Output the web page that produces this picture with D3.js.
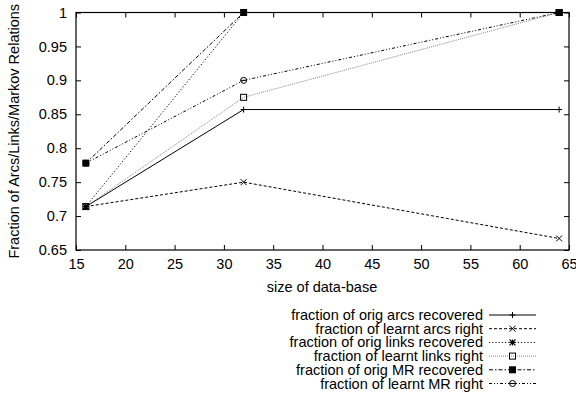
<!DOCTYPE html>
<html>
<head>
<meta charset="utf-8">
<script src="https://cdn.jsdelivr.net/npm/d3@7"></script>
<style>
    body { margin: 0; background: #fff; }
    text { font-family: "Liberation Sans", Arial, sans-serif; fill: #000; }
</style>
</head>
<body>
<div id="chart"></div>
<script>
// data-base sizes
const sizes = [16, 32, 64];

// series values
const origArcsRecovered = [0.714, 0.857, 0.857];
const learntArcsRight = [0.714, 0.75, 0.667];
const origLinksRecovered = [0.714, 1, 1];
const learntLinksRight = [0.714, 0.875, 1];
const origMRRecovered = [0.778, 1, 1];
const learntMRRight = [0.778, 0.9, 1];

const seriesNames = [
    'fraction of orig arcs recovered',
    'fraction of learnt arcs right',
    'fraction of orig links recovered',
    'fraction of learnt links right',
    'fraction of orig MR recovered',
    'fraction of learnt MR right'
];

const xTicks = [15, 20, 25, 30, 35, 40, 45, 50, 55, 60, 65];
const yTicks = [0.65, 0.7, 0.75, 0.8, 0.85, 0.9, 0.95, 1];

const width = 576, height = 397;
const margin = { top: 12.5, right: 7, bottom: 147, left: 76 };
const w = width - margin.left - margin.right;
const h = height - margin.top - margin.bottom;
const fs = 14.5;

const svg = d3.select('#chart').append('svg')
    .attr('width', width)
    .attr('height', height);

const x = d3.scaleLinear().domain([15, 65]).range([margin.left, margin.left + w]);
const y = d3.scaleLinear().domain([0.65, 1]).range([margin.top + h, margin.top]);

// styles per series: dash, colour, marker
const styles = [
    { dash: null, color: '#000', marker: 'plus' },
    { dash: '3,2', color: '#000', marker: 'cross' },
    { dash: '1.2,2', color: '#000', marker: 'star' },
    { dash: '1,1', color: '#888', marker: 'box' },
    { dash: '4,2,1.5,2', color: '#000', marker: 'fbox' },
    { dash: '3,2,1,2,1,2', color: '#000', marker: 'circle' }
];

const allSeries = [origArcsRecovered, learntArcsRight, origLinksRecovered,
    learntLinksRight, origMRRecovered, learntMRRight];

// axes with inward ticks, mirrored
const tickLen = 5;
const axisG = svg.append('g').attr('class', 'axes');

axisG.append('g')
    .attr('transform', `translate(0,${margin.top + h})`)
    .call(d3.axisBottom(x).tickValues(xTicks).tickSizeInner(-tickLen).tickSizeOuter(0).tickPadding(9).tickFormat(d3.format('d')))
    .call(g => g.select('.domain').remove())
    .call(g => g.selectAll('text').attr('font-size', fs));
axisG.append('g')
    .attr('transform', `translate(0,${margin.top})`)
    .call(d3.axisTop(x).tickValues(xTicks).tickSizeInner(-tickLen).tickSizeOuter(0).tickFormat(''))
    .call(g => g.select('.domain').remove());
axisG.append('g')
    .attr('transform', `translate(${margin.left},0)`)
    .call(d3.axisLeft(y).tickValues(yTicks).tickSizeInner(-tickLen).tickSizeOuter(0).tickPadding(9).tickFormat(d => d3.format('')(d)))
    .call(g => g.select('.domain').remove())
    .call(g => g.selectAll('text').attr('font-size', fs));
axisG.append('g')
    .attr('transform', `translate(${margin.left + w},0)`)
    .call(d3.axisRight(y).tickValues(yTicks).tickSizeInner(-tickLen).tickSizeOuter(0).tickFormat(''))
    .call(g => g.select('.domain').remove());

axisG.append('rect')
    .attr('x', margin.left).attr('y', margin.top)
    .attr('width', w).attr('height', h)
    .attr('fill', 'none').attr('stroke', '#000').attr('stroke-width', 1.2);

// axis titles
svg.append('text')
    .attr('x', 322)
    .attr('y', 292)
    .attr('text-anchor', 'middle')
    .attr('font-size', fs)
    .text('size of data-base');
svg.append('text')
    .attr('transform', `translate(19,${margin.top + h / 2}) rotate(-90)`)
    .attr('text-anchor', 'middle')
    .attr('font-size', fs)
    .text('Fraction of Arcs/Links/Markov Relations');

function drawMarker(g, type, cx, cy, color) {
    const s = 3;
    if (type === 'plus') {
        g.append('path').attr('d', `M${cx - s},${cy}H${cx + s}M${cx},${cy - s}V${cy + s}`)
            .attr('stroke', color).attr('stroke-width', 1);
    } else if (type === 'cross') {
        g.append('path').attr('d', `M${cx - s},${cy - s}L${cx + s},${cy + s}M${cx - s},${cy + s}L${cx + s},${cy - s}`)
            .attr('stroke', color).attr('stroke-width', 1);
    } else if (type === 'star') {
        g.append('path').attr('d', `M${cx - s},${cy - s}L${cx + s},${cy + s}M${cx - s},${cy + s}L${cx + s},${cy - s}M${cx - s},${cy}H${cx + s}M${cx},${cy - s}V${cy + s}`)
            .attr('stroke', color).attr('stroke-width', 1.2);
    } else if (type === 'box') {
        g.append('rect').attr('x', cx - 3).attr('y', cy - 3).attr('width', 6).attr('height', 6)
            .attr('fill', 'none').attr('stroke', '#000').attr('stroke-width', 1);
    } else if (type === 'fbox') {
        g.append('rect').attr('x', cx - 3.5).attr('y', cy - 3.5).attr('width', 7).attr('height', 7)
            .attr('fill', '#000');
    } else if (type === 'circle') {
        g.append('circle').attr('cx', cx).attr('cy', cy).attr('r', 3)
            .attr('fill', 'none').attr('stroke', '#000').attr('stroke-width', 1);
        g.append('path').attr('d', `M${cx - 3},${cy}H${cx + 3}`)
            .attr('stroke', '#000').attr('stroke-width', 1);
    }
}

const line = d3.line().x(d => x(d[0])).y(d => y(d[1]));

// lines first, then markers on top
allSeries.forEach((vals, i) => {
    const st = styles[i];
    const pts = sizes.map((s, j) => [s, vals[j]]);
    svg.append('path')
        .datum(pts)
        .attr('d', line)
        .attr('fill', 'none')
        .attr('stroke', st.color)
        .attr('stroke-width', 1)
        .attr('stroke-dasharray', st.dash);
});
allSeries.forEach((vals, i) => {
    const g = svg.append('g');
    sizes.forEach((s, j) => drawMarker(g, styles[i].marker, x(s), y(vals[j]), styles[i].color));
});

// legend
const legend = svg.append('g');
const legTop = 315, legStep = 13.7;
seriesNames.forEach((name, i) => {
    const ly = legTop + i * legStep;
    const st = styles[i];
    legend.append('text')
        .attr('x', 483)
        .attr('y', ly)
        .attr('dy', '0.35em')
        .attr('text-anchor', 'end')
        .attr('font-size', fs)
        .text(name);
    legend.append('line')
        .attr('x1', 489).attr('x2', 536)
        .attr('y1', ly).attr('y2', ly)
        .attr('stroke', st.color)
        .attr('stroke-width', 1)
        .attr('stroke-dasharray', st.dash);
    drawMarker(legend, st.marker, 512.5, ly, st.color);
});
</script>
</body>
</html>
